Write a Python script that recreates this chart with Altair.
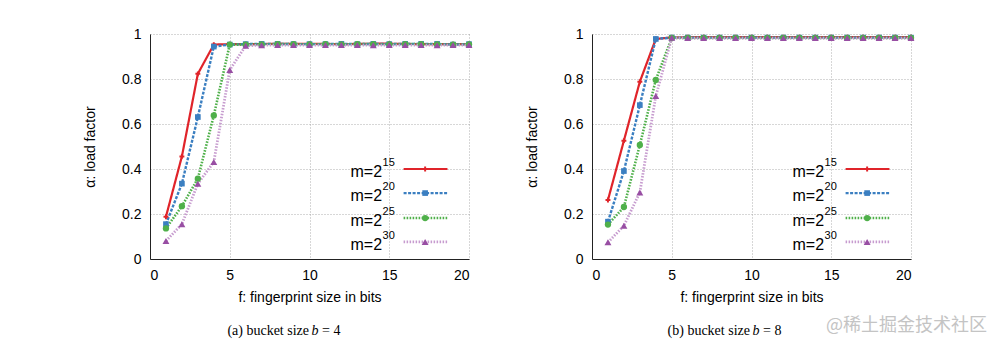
import altair as alt
import pandas as pd

# ---------------- data ----------------
fingerprint_bits = list(range(1, 21))
series_names = ["m=2^15", "m=2^20", "m=2^25", "m=2^30"]
legend_base = "m=2"
legend_exponents = ["15", "20", "25", "30"]

# (a) bucket size b = 4
b4_m15 = [0.188, 0.456, 0.823, 0.953, 0.955, 0.955, 0.955, 0.957, 0.956, 0.956,
          0.956, 0.955, 0.956, 0.957, 0.957, 0.956, 0.955, 0.955, 0.955, 0.955]
b4_m20 = [0.155, 0.335, 0.631, 0.944, 0.953, 0.955, 0.956, 0.956, 0.955, 0.955,
          0.955, 0.956, 0.955, 0.956, 0.955, 0.956, 0.956, 0.956, 0.953, 0.955]
b4_m25 = [0.136, 0.235, 0.357, 0.638, 0.953, 0.953, 0.954, 0.955, 0.955, 0.954,
          0.955, 0.954, 0.955, 0.955, 0.954, 0.955, 0.955, 0.954, 0.953, 0.954]
b4_m30 = [0.080, 0.155, 0.335, 0.431, 0.840, 0.948, 0.950, 0.951, 0.951, 0.951,
          0.951, 0.951, 0.951, 0.950, 0.951, 0.951, 0.951, 0.950, 0.951, 0.951]

# (b) bucket size b = 8
b8_m15 = [0.262, 0.526, 0.788, 0.978, 0.985, 0.986, 0.986, 0.986, 0.986, 0.986,
          0.986, 0.986, 0.986, 0.986, 0.986, 0.986, 0.986, 0.986, 0.986, 0.986]
b8_m20 = [0.166, 0.391, 0.684, 0.978, 0.984, 0.984, 0.984, 0.984, 0.984, 0.984,
          0.984, 0.984, 0.984, 0.984, 0.984, 0.984, 0.984, 0.984, 0.984, 0.984]
b8_m25 = [0.153, 0.231, 0.507, 0.796, 0.983, 0.983, 0.983, 0.983, 0.983, 0.983,
          0.983, 0.983, 0.983, 0.983, 0.983, 0.983, 0.983, 0.983, 0.983, 0.983]
b8_m30 = [0.074, 0.148, 0.296, 0.724, 0.983, 0.982, 0.982, 0.982, 0.982, 0.982,
          0.982, 0.982, 0.982, 0.982, 0.982, 0.982, 0.982, 0.982, 0.982, 0.982]

x_ticks = [0, 5, 10, 15, 20]
y_ticks = [0, 0.2, 0.4, 0.6, 0.8, 1]

# ---------------- styles ----------------
line_colors = ["#e0242a", "#3b7fc1", "#4fb04a", "#c79ccf"]
point_colors = ["#e0242a", "#3b7fc1", "#4fb04a", "#984ea3"]
dashes = [[1, 0], [3, 1.5], [1.6, 1.4], [1.5, 1.5]]
widths = [2.2, 2.8, 2.0, 1.8]
shapes = ["cross", "square", "circle", "triangle-up"]
sizes = [24, 48, 48, 56]

# legend layout (in data units of each panel)
leg_x0, leg_x1, leg_xm, leg_text_x = 15.9, 18.65, 17.25, 14.55
leg_rows = [0.40, 0.293, 0.182, 0.076]

W, H = 319, 225
FONT = "Liberation Sans"


def long_frame(values):
    rows = []
    for name, vals in zip(series_names, values):
        for b, v in zip(fingerprint_bits, vals):
            rows.append({"bits": b, "alpha": v, "series": name})
    return pd.DataFrame(rows)


legend_df = pd.DataFrame({
    "series": series_names,
    "exp": legend_exponents,
    "base": [legend_base] * 4,
    "ly": leg_rows,
    "x0": [leg_x0] * 4,
    "x1": [leg_x1] * 4,
    "xm": [leg_xm] * 4,
    "xt": [leg_text_x] * 4,
})


def scale(rng):
    return alt.Scale(domain=series_names, range=rng)


def panel(values, cap_label, cap_num, cap_x, watermark=False):
    df = long_frame(values)
    xs = alt.Scale(domain=[0, 20], nice=False, zero=False)
    ys = alt.Scale(domain=[0, 1], nice=False)
    xax = alt.Axis(values=x_ticks, title="f: fingerprint size in bits")
    yax = alt.Axis(values=y_ticks, format="~g", title="\u03b1: load factor")

    lines = alt.Chart(df).mark_line().encode(
        x=alt.X("bits:Q", scale=xs, axis=xax),
        y=alt.Y("alpha:Q", scale=ys, axis=yax),
        stroke=alt.Stroke("series:N", scale=scale(line_colors), legend=None),
        strokeDash=alt.StrokeDash("series:N", scale=scale(dashes), legend=None),
        strokeWidth=alt.StrokeWidth("series:N", scale=scale(widths), legend=None),
        order=alt.Order("bits:Q"),
    )
    pts = alt.Chart(df).mark_point(filled=True, opacity=1).encode(
        x="bits:Q",
        y="alpha:Q",
        fill=alt.Fill("series:N", scale=scale(point_colors), legend=None),
        shape=alt.Shape("series:N", scale=scale(shapes), legend=None),
        size=alt.Size("series:N", scale=scale(sizes), legend=None),
    )
    leg_lines = alt.Chart(legend_df).mark_rule().encode(
        x="x0:Q", x2="x1:Q", y="ly:Q",
        stroke=alt.Stroke("series:N", scale=scale(line_colors), legend=None),
        strokeDash=alt.StrokeDash("series:N", scale=scale(dashes), legend=None),
        strokeWidth=alt.StrokeWidth("series:N", scale=scale(widths), legend=None),
    )
    leg_pts = alt.Chart(legend_df).mark_point(filled=True, opacity=1).encode(
        x="xm:Q", y="ly:Q",
        fill=alt.Fill("series:N", scale=scale(point_colors), legend=None),
        shape=alt.Shape("series:N", scale=scale(shapes), legend=None),
        size=alt.Size("series:N", scale=scale(sizes), legend=None),
    )
    leg_base = alt.Chart(legend_df).mark_text(
        align="right", baseline="middle", dy=3, fontSize=16, font=FONT, color="black"
    ).encode(x="xt:Q", y="ly:Q", text="base:N")
    leg_exp = alt.Chart(legend_df).mark_text(
        align="left", baseline="middle", dy=-6, dx=0.5, fontSize=11, font=FONT, color="black"
    ).encode(x="xt:Q", y="ly:Q", text="exp:N")

    one = pd.DataFrame({"k": [0]})
    cap_y = H + 72
    cap1 = alt.Chart(one).mark_text(
        align="right", baseline="middle", fontSize=14, font="Liberation Serif", color="black"
    ).encode(x=alt.value(cap_x - 6), y=alt.value(cap_y), text=alt.value(cap_label))
    cap2 = alt.Chart(one).mark_text(
        align="center", baseline="middle", fontSize=14, font="Liberation Serif",
        fontStyle="italic", color="black"
    ).encode(x=alt.value(cap_x), y=alt.value(cap_y), text=alt.value("b"))
    cap3 = alt.Chart(one).mark_text(
        align="left", baseline="middle", fontSize=14, font="Liberation Serif", color="black"
    ).encode(x=alt.value(cap_x + 7), y=alt.value(cap_y), text=alt.value(cap_num))

    layers = [lines, pts, leg_lines, leg_pts, leg_base, leg_exp, cap1, cap2, cap3]
    if watermark:
        wm = alt.Chart(one).mark_text(
            align="left", baseline="middle", fontSize=18, font="Noto Sans CJK SC",
            color="#c4c4c4"
        ).encode(x=alt.value(234), y=alt.value(H + 67), text=alt.value("@稀土掘金技术社区"))
        layers.append(wm)
    return alt.layer(*layers).properties(width=W, height=H)


left = panel([b4_m15, b4_m20, b4_m25, b4_m30], "(a)  bucket size", "= 4", 165)
right = panel([b8_m15, b8_m20, b8_m25, b8_m30], "(b)  bucket size", "= 8", 164, watermark=True)

chart = alt.hconcat(left, right, spacing=50).properties(
    padding={"left": 83, "top": 27, "right": 5, "bottom": 5},
    background="white",
).configure_view(stroke=None).configure_axis(
    labelFont=FONT, titleFont=FONT, labelFontSize=14, titleFontSize=14,
    labelColor="black", titleColor="black", titleFontWeight="normal",
    grid=True, gridDash=[1, 2], gridColor="#9a9a9a", gridWidth=0.8,
    domainColor="#222", domainWidth=1, ticks=False,
).configure_axisX(
    labelPadding=9, titlePadding=8,
).configure_axisY(
    labelPadding=9, titlePadding=24,
)

chart.save("out.html", embed_options={"renderer": "svg", "actions": False})
